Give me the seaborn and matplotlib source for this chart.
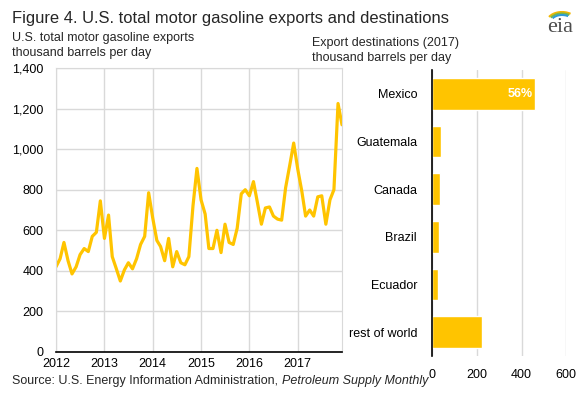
import pandas as pd
import matplotlib.pyplot as plt
import seaborn as sns
from matplotlib.patches import Arc

sns.set_style("white")
plt.rcParams['font.family'] = ['Liberation Sans', 'DejaVu Sans']

# Monthly U.S. motor gasoline exports, Jan 2012 - Dec 2017 (thousand b/d)
exports_2012 = [420, 460, 540, 450, 385, 420, 480, 510, 495, 570, 590, 745]
exports_2013 = [560, 675, 470, 410, 350, 405, 440, 410, 460, 530, 570, 785]
exports_2014 = [660, 550, 520, 450, 560, 420, 495, 440, 430, 470, 720, 905]
exports_2015 = [750, 680, 510, 510, 600, 490, 630, 540, 530, 610, 780, 800]
exports_2016 = [770, 840, 740, 630, 710, 715, 670, 655, 650, 810, 920, 1030]
exports_2017 = [900, 790, 670, 700, 670, 765, 770, 630, 750, 800, 1225, 1120]

# Export destinations 2017
destinations = ['Mexico', 'Guatemala', 'Canada', 'Brazil', 'Ecuador', 'rest of world']
dest_values = [460, 39, 35, 30, 24, 222]
mexico_share = '56%'

years = [2012, 2013, 2014, 2015, 2016, 2017]
gold = '#FFC400'
grid_col = '#D9D9D9'

exports = (exports_2012 + exports_2013 + exports_2014 + exports_2015
           + exports_2016 + exports_2017)
line_df = pd.DataFrame({
    'date': pd.date_range('2012-01-01', periods=len(exports), freq='MS'),
    'exports': exports,
})
bar_df = pd.DataFrame({'destination': destinations, 'value': dest_values})

fig = plt.figure(figsize=(5.86, 3.95), dpi=100)

# Line chart
ax1 = fig.add_axes([56 / 586, 43 / 395, 286 / 586, 284 / 395])
sns.lineplot(data=line_df, x='date', y='exports', color=gold, linewidth=2.3, ax=ax1)
ax1.set_xlim(line_df['date'].iloc[0], line_df['date'].iloc[-1])
ax1.set_ylim(0, 1400)
ax1.set_yticks(range(0, 1401, 200))
ax1.set_yticklabels([f'{v:,}' for v in range(0, 1401, 200)])
ax1.set_xticks([pd.Timestamp(f'{y}-01-01') for y in years])
ax1.set_xticklabels([str(y) for y in years])
ax1.grid(True, color=grid_col, linewidth=1)
ax1.set_axisbelow(True)
ax1.set_xlabel('')
ax1.set_ylabel('')
for s in ['left', 'top', 'right']:
    ax1.spines[s].set_color(grid_col)
ax1.spines['bottom'].set_color('black')
ax1.spines['bottom'].set_linewidth(1.2)
ax1.tick_params(axis='both', length=0, labelsize=9, colors='black')
ax1.tick_params(axis='y', pad=9)
ax1.tick_params(axis='x', pad=4)

# Bar chart
ax2 = fig.add_axes([432.3 / 586, 39 / 395, 134 / 586, 286 / 395])
sns.barplot(data=bar_df, x='value', y='destination', color=gold, width=0.67,
            saturation=1, ax=ax2)
ax2.set_xlim(0, 600)
ax2.set_xticks([0, 200, 400, 600])
ax2.grid(True, axis='x', color=grid_col, linewidth=1)
ax2.set_axisbelow(True)
ax2.set_xlabel('')
ax2.set_ylabel('')
for s in ['top', 'right', 'bottom']:
    ax2.spines[s].set_visible(False)
ax2.spines['left'].set_color('black')
ax2.spines['left'].set_linewidth(1.2)
ax2.tick_params(axis='both', length=0, labelsize=9, colors='black')
ax2.tick_params(axis='y', pad=11)
ax2.tick_params(axis='x', pad=9)
ax2.text(dest_values[0] - 12, 0, mexico_share, color='white', fontsize=9,
         fontweight='bold', ha='right', va='center')

# Titles
fig.text(12 / 586, 1 - 18 / 395, 'Figure 4. U.S. total motor gasoline exports and destinations',
         fontsize=11.9, va='center', ha='left')
fig.text(12 / 586, 1 - 38 / 395, 'U.S. total motor gasoline exports', fontsize=9,
         va='center', ha='left')
fig.text(12 / 586, 1 - 53 / 395, 'thousand barrels per day', fontsize=9,
         va='center', ha='left')
fig.text(312 / 586, 1 - 43 / 395, 'Export destinations (2017)', fontsize=9,
         va='center', ha='left')
fig.text(312 / 586, 1 - 58 / 395, 'thousand barrels per day', fontsize=9,
         va='center', ha='left')

# Source line
src = fig.text(12 / 586, 1 - 381 / 395, 'Source: U.S. Energy Information Administration, ',
               fontsize=9, va='center', ha='left')
fig.canvas.draw()
bb = src.get_window_extent()
fig.text(bb.x1 / fig.bbox.width, 1 - 381 / 395, 'Petroleum Supply Monthly',
         fontsize=9, style='italic', va='center', ha='left')

# eia logo
fig.text(560 / 586, 1 - 27 / 395, 'eia', fontsize=16, family='Liberation Serif',
         color='#4D4D4D', ha='center', va='center')
for i, c in enumerate(['#F2B705', '#7AB648', '#2F9BD6']):
    fig.patches.append(Arc((562 / 586, 1 - 22 / 395), (30 - i * 4) / 586, (20 - i * 3) / 395,
                           theta1=55, theta2=150, color=c, linewidth=1.5,
                           transform=fig.transFigure, figure=fig))

fig.savefig('out.png', dpi=100)
